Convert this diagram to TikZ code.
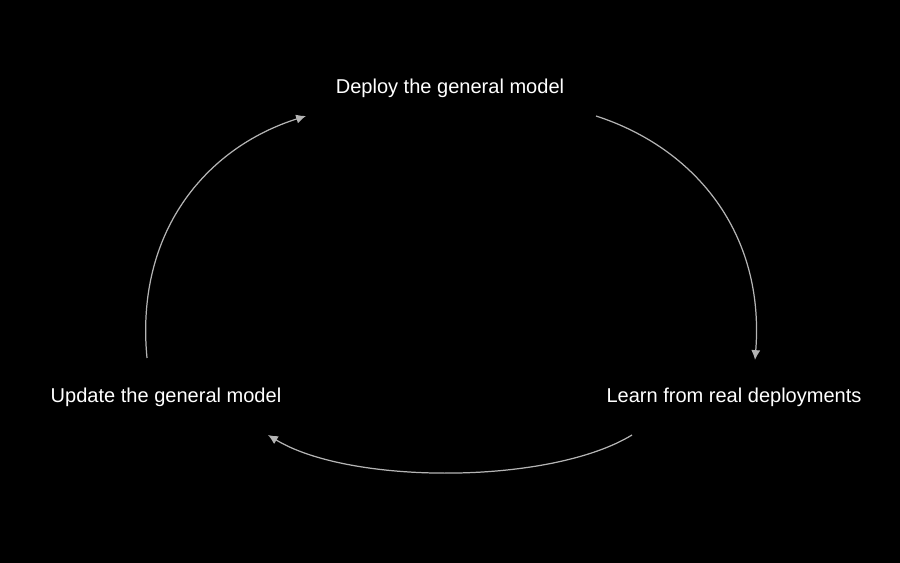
\documentclass[tikz,border=0pt]{standalone}
\usepackage{fontspec}
\setmainfont{Liberation Sans}
\usetikzlibrary{arrows.meta}
\definecolor{loopgray}{HTML}{B4B4B4}
\begin{document}
\begin{tikzpicture}[
    stage/.style={text=white, inner sep=0pt, font=\fontsize{5.7}{7}\selectfont},
    flow/.style={draw=loopgray, line width=0.35pt, -{Latex[length=2.8pt,width=2.6pt]}}
]
    \fill[black] (0,0) rectangle (9,5.63);
    \useasboundingbox (0,0) rectangle (9,5.63);
    \node[stage] (deploy) at (4.5,4.75) {Deploy the general model};
    \node[stage] (update) at (1.66,1.66) {Update the general model};
    \node[stage] (learn) at (7.34,1.66) {Learn from real deployments};
    \coordinate (d-out) at (5.96,4.47);
    \coordinate (l-in) at (7.55,2.03);
    \coordinate (l-out) at (6.32,1.28);
    \coordinate (u-in) at (2.68,1.28);
    \coordinate (u-out) at (1.47,2.05);
    \coordinate (d-in) at (3.06,4.47);
    \draw[flow] (d-out) .. controls (6.95,4.15) and (7.65,3.3) .. (l-in);
    \draw[flow] (l-out) .. controls (5.5,0.78) and (3.5,0.78) .. (u-in);
    \draw[flow] (u-out) .. controls (1.35,3.3) and (2.05,4.15) .. (d-in);
\end{tikzpicture}
\end{document}
